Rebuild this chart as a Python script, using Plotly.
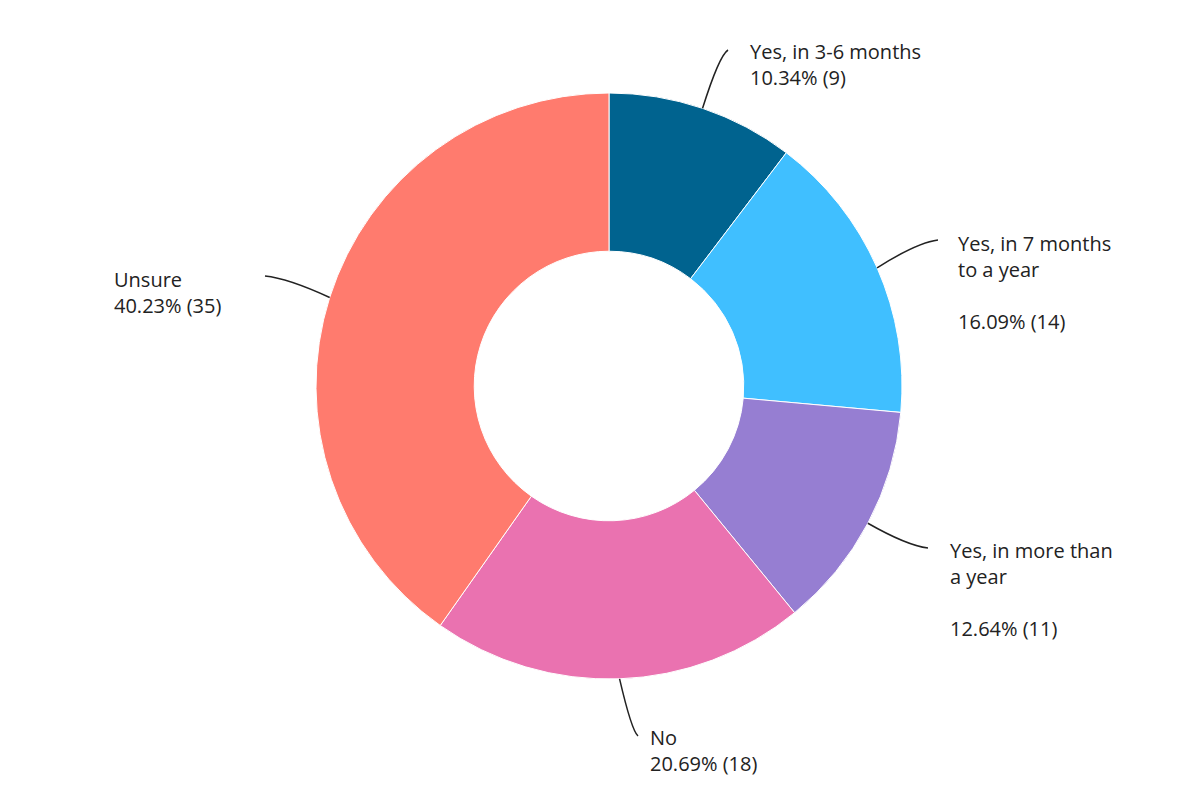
import math
import plotly.graph_objects as go

labels = ["Yes, in 3-6 months", "Yes, in 7 months to a year", "Yes, in more than a year", "No", "Unsure"]
counts = [9, 14, 11, 18, 35]
pcts = ["10.34%", "16.09%", "12.64%", "20.69%", "40.23%"]
label_texts = ["Yes, in 3-6 months<br>10.34% (9)",
               "Yes, in 7 months<br>to a year<br> <br>16.09% (14)",
               "Yes, in more than<br>a year<br> <br>12.64% (11)",
               "No<br>20.69% (18)",
               "Unsure<br>40.23% (35)"]
colors = ["#00638f", "#40bfff", "#967ed2", "#ea72b0", "#ff7b6e"]

W, H = 1200, 800
cx, cy, R = 601, 378, 293
# label anchor (pixel) for text start, leader end, text alignment
label_pos = [(740, 28, 720, 42, "left"), (948, 220, 930, 232, "left"),
             (940, 527, 920, 540, "left"), (640, 714, 630, 728, "left"),
             (245, 256, 257, 268, "right")]

fig = go.Figure(go.Pie(
    labels=labels, values=counts, hole=0.46, sort=False, direction="clockwise",
    rotation=0, marker=dict(colors=colors, line=dict(color="white", width=1)),
    textinfo="none", hoverinfo="label+value+percent", showlegend=False,
    domain=dict(x=[(cx - R) / W, (cx + R) / W], y=[1 - (cy + R) / H, 1 - (cy - R) / H]),
))

def px(x, y):
    return x / W, 1 - y / H

total = sum(counts)
cum = 0
shapes, anns = [], []
for i, c in enumerate(counts):
    mid = (cum + c / 2) / total * 2 * math.pi
    cum += c
    rx, ry = cx + R * math.sin(mid), cy - R * math.cos(mid)
    tx, ty, ex, ey, align = label_pos[i]
    # slight curve
    qx, qy = ex + (rx - ex) * 0.35, ey + (ry - ey) * 0.1
    a, b = px(rx, ry); q1, q2 = px(qx, qy); e1, e2 = px(ex, ey)
    shapes.append(dict(type="path", xref="paper", yref="paper",
                       path=f"M {a},{b} Q {q1},{q2} {e1},{e2}",
                       line=dict(color="#222", width=1.5)))
    if align == "right":
        tx = 104
    x0, y0 = px(tx, ty)
    anns.append(dict(x=x0, y=y0, xref="paper", yref="paper", xanchor="left",
                     yanchor="top", align="left", showarrow=False,
                     text=label_texts[i],
                     font=dict(family="Open Sans", size=20, color="#222", weight=500)))

fig.update_layout(width=W, height=H, margin=dict(l=0, r=0, t=0, b=0),
                  paper_bgcolor="white", plot_bgcolor="white",
                  shapes=shapes, annotations=anns)
fig.write_html("out.html")
